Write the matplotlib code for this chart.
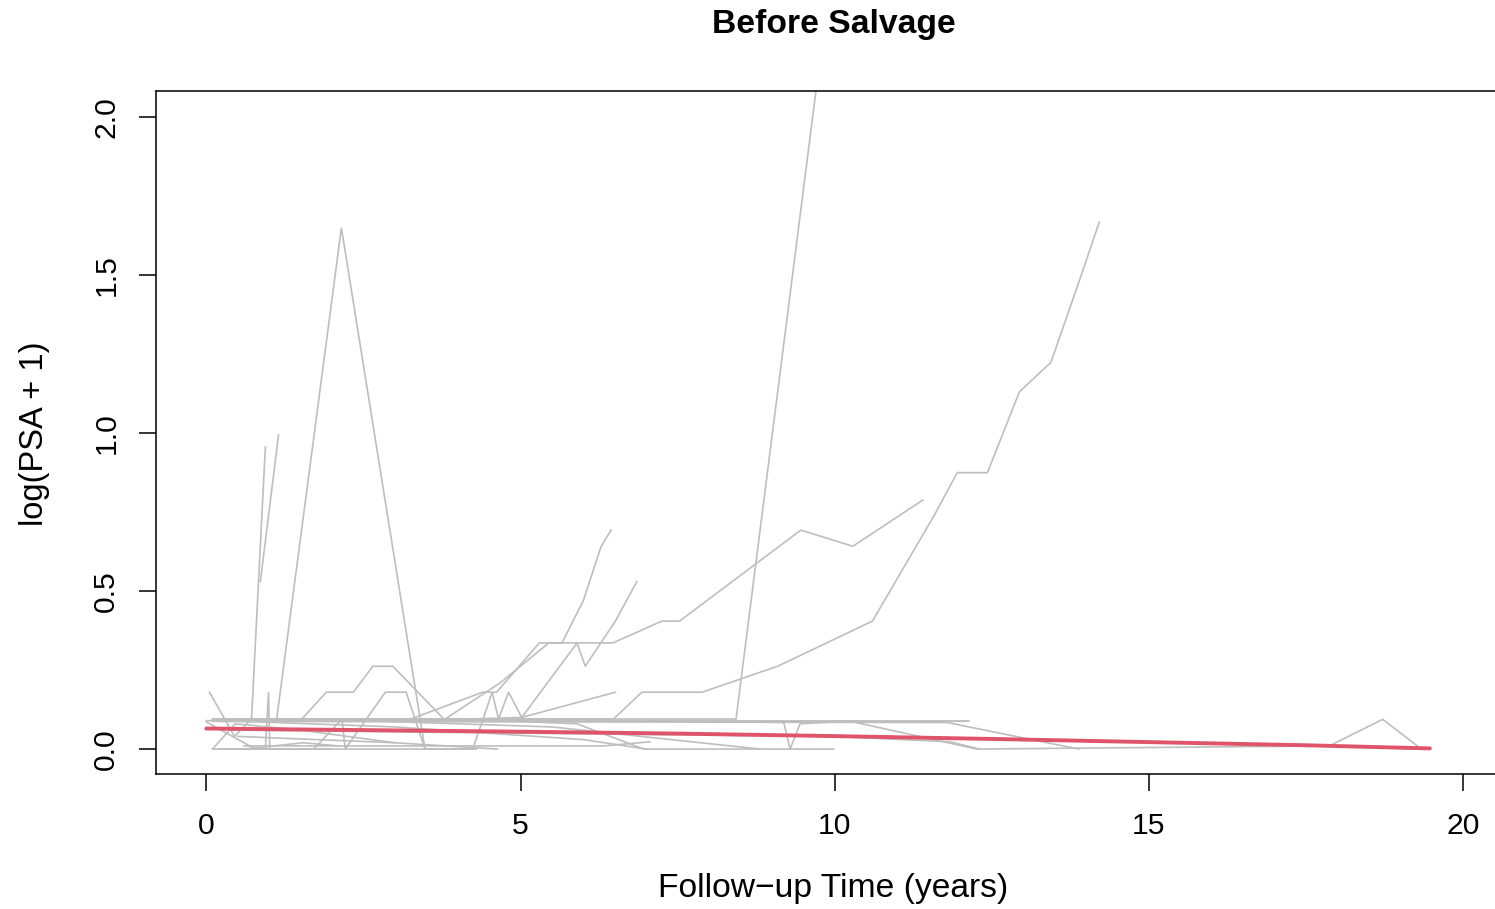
import matplotlib
matplotlib.use("Agg")
import matplotlib.pyplot as plt

plt.rcParams['font.family'] = ['Liberation Sans', 'DejaVu Sans']

# per-subject trajectories: follow-up time (years) and log(PSA + 1)
subj_x = [
    [0.05, 0.45, 0.72, 0.94],
    [0.86, 1.15],
    [0.3, 0.94, 0.99, 1.01, 2.0],
    [0.1, 1.12, 2.15, 3.48, 4.3],
    [0.1, 1.52, 1.91, 2.34, 2.65, 2.97, 3.78, 4.3],
    [0.2, 1.71, 2.16, 2.21, 2.85, 3.18, 3.48, 4.2],
    [0.6, 1.55, 2.1],
    [0.0, 0.78, 1.7],
    [0.1, 0.46, 1.5, 3.0],
    [0.2, 3.25, 4.4, 4.62, 5.3, 5.66, 6.0, 6.28, 6.44],
    [0.1, 4.24, 4.55, 4.65, 4.81, 5.02, 6.51],
    [0.3, 4.2, 5.02, 5.9, 6.03, 6.51, 6.85],
    [0.3, 6.48, 6.93, 7.89, 9.09, 10.6, 11.59, 11.95, 12.43, 12.94, 13.44, 13.93, 14.21],
    [0.2, 3.8, 4.68, 5.45, 6.47, 7.25, 7.53, 9.46, 10.29, 11.40],
    [0.3, 8.43, 9.84],
    [0.1, 6.0, 12.13],
    [0.2, 10.25, 12.26, 17.87, 18.72, 19.29],
    [0.1, 11.79, 13.88],
    [0.4, 9.98, 11.84, 12.3],
    [0.1, 2.5, 5.5, 8.81],
    [0.3, 3.0, 6.0, 7.0],
    [0.0, 4.68, 5.9, 6.96, 9.98],
    [0.2, 7.89, 9.19, 9.29, 9.45, 10.2, 12.1],
    [0.5, 3.0, 4.63],
    [0.6, 4.68, 6.32, 7.06],
]
subj_y = [
    [0.18, 0.04, 0.095, 0.956],
    [0.53, 0.994],
    [0.0, 0.0, 0.18, 0.0, 0.0],
    [0.095, 0.095, 1.65, 0.0, 0.0],
    [0.095, 0.095, 0.18, 0.18, 0.262, 0.262, 0.095, 0.095],
    [0.0, 0.0, 0.095, 0.0, 0.18, 0.18, 0.0, 0.0],
    [0.0, 0.02, 0.01],
    [0.086, 0.0, 0.0],
    [0.0, 0.08, 0.06, 0.02],
    [0.095, 0.095, 0.18, 0.18, 0.336, 0.336, 0.47, 0.64, 0.693],
    [0.0, 0.0, 0.18, 0.095, 0.18, 0.10, 0.18],
    [0.095, 0.095, 0.10, 0.336, 0.262, 0.405, 0.53],
    [0.095, 0.095, 0.18, 0.18, 0.262, 0.405, 0.742, 0.875, 0.875, 1.131, 1.224, 1.504, 1.668],
    [0.095, 0.095, 0.21, 0.336, 0.336, 0.405, 0.405, 0.693, 0.642, 0.788],
    [0.095, 0.095, 2.3],
    [0.088, 0.088, 0.088],
    [0.088, 0.088, 0.0, 0.01, 0.094, 0.007],
    [0.088, 0.084, 0.0],
    [0.06, 0.04, 0.023, 0.0],
    [0.095, 0.09, 0.07, 0.0],
    [0.09, 0.07, 0.03, 0.0],
    [0.09, 0.09, 0.08, 0.0, 0.0],
    [0.088, 0.088, 0.084, 0.0, 0.08, 0.088, 0.088],
    [0.04, 0.02, 0.0],
    [0.01, 0.01, 0.01, 0.023],
]

# smoothed mean curve
mean_x = [0.0, 2.5, 5.0, 7.5, 10.0, 12.5, 15.0, 17.5, 19.47]
mean_y = [0.065, 0.060, 0.055, 0.049, 0.041, 0.032, 0.022, 0.012, 0.002]

fig = plt.figure(figsize=(14.95, 9.09), dpi=100)
# plot region runs past the right edge, like the cropped original
ax = fig.add_axes([155.7 / 1495, 135.3 / 909, 1364 / 1495, 682.7 / 909])

for xs, ys in zip(subj_x, subj_y):
    ax.plot(xs, ys, color='#BEBEBE', lw=1.2, solid_joinstyle='miter')
ax.plot(mean_x, mean_y, color='#DF536B', lw=2.8, solid_capstyle='round')

ax.set_xlim(-0.805, 20.9)
ax.set_ylim(-0.078, 2.083)
ax.set_xticks([0, 5, 10, 15, 20])
ax.set_yticks([0.0, 0.5, 1.0, 1.5, 2.0])
ax.set_xticklabels(['0', '5', '10', '15', '20'])
ax.set_yticklabels(['0.0', '0.5', '1.0', '1.5', '2.0'], rotation=90, va='center')
ax.tick_params(direction='out', length=12, width=1.1, labelsize=21.7, color='black')
ax.tick_params(axis='x', pad=15.5)
ax.tick_params(axis='y', pad=13.5)
for s in ax.spines.values():
    s.set_linewidth(1.1)

fig.text(833 / 1495, 1 - 888 / 909, 'Follow\u2212up Time (years)', ha='center', va='center', fontsize=24.2)
fig.text(35 / 1495, 1 - 434 / 909, 'log(PSA + 1)', ha='center', va='center', fontsize=23.5, rotation=90)
fig.text(834 / 1495, 1 - 25 / 909, 'Before Salvage', ha='center', va='center', fontsize=24.2, fontweight='bold')

fig.savefig('out.png', dpi=100)
